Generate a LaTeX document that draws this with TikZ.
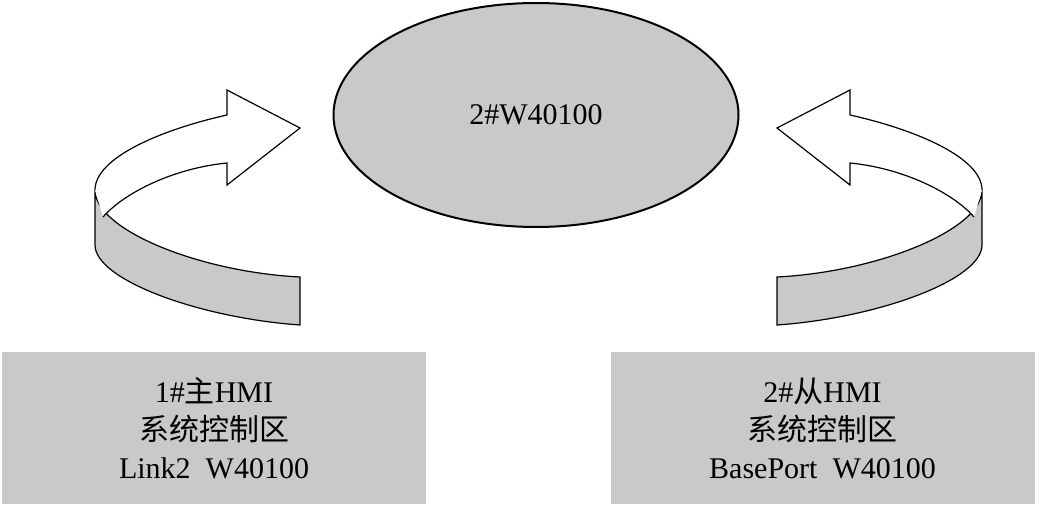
\documentclass[tikz,border=0pt]{standalone}
\usepackage{fontspec}
\setmainfont{Liberation Serif}
\newfontfamily\cjk{Noto Sans CJK SC}
\usetikzlibrary{shapes.geometric}
\definecolor{areagray}{gray}{0.79}
\tikzset{
  areabox/.style={fill=areagray,minimum width=424pt,minimum height=152pt,inner sep=0pt,align=center},
  ribbon/.style={line width=1.2pt,line join=miter},
}
% one curled arrow, drawn in pixel coordinates
\newcommand{\curlarrow}{%
  \filldraw[ribbon,fill=areagray] (95,190) .. controls (95,230) and (200,272) .. (300,277)
    -- (300,325) .. controls (200,318) and (95,280) .. (95,245) -- cycle;
  \draw[ribbon,fill=white] (95,190) .. controls (95,158) and (160,130) .. (227,115)
    -- (227,90) -- (300,128) -- (227,185) -- (227,163)
    .. controls (175,168) and (125,192) .. (103,217);
}
\begin{document}
\begin{tikzpicture}[x=1pt,y=-1pt, every node/.style={font=\fontsize{30}{38}\selectfont}]
\useasboundingbox (0,0) rectangle (1043,510);
\node[draw,line width=2pt,fill=areagray,ellipse,minimum width=405pt,minimum height=224pt,inner sep=0pt] (reg) at (536,115) {2\#W40100};
\node[areabox] (master) at (214,428) {1\#{\cjk 主}HMI\\{\cjk 系统控制区}\\Link2\ \ W40100};
\node[areabox] (slave) at (822.5,428) {2\#{\cjk 从}HMI\\{\cjk 系统控制区}\\BasePort\ \ W40100};
% left and right arrows
\curlarrow
\begin{scope}[shift={(1077,0)},xscale=-1]
\curlarrow
\end{scope}
\end{tikzpicture}
\end{document}
